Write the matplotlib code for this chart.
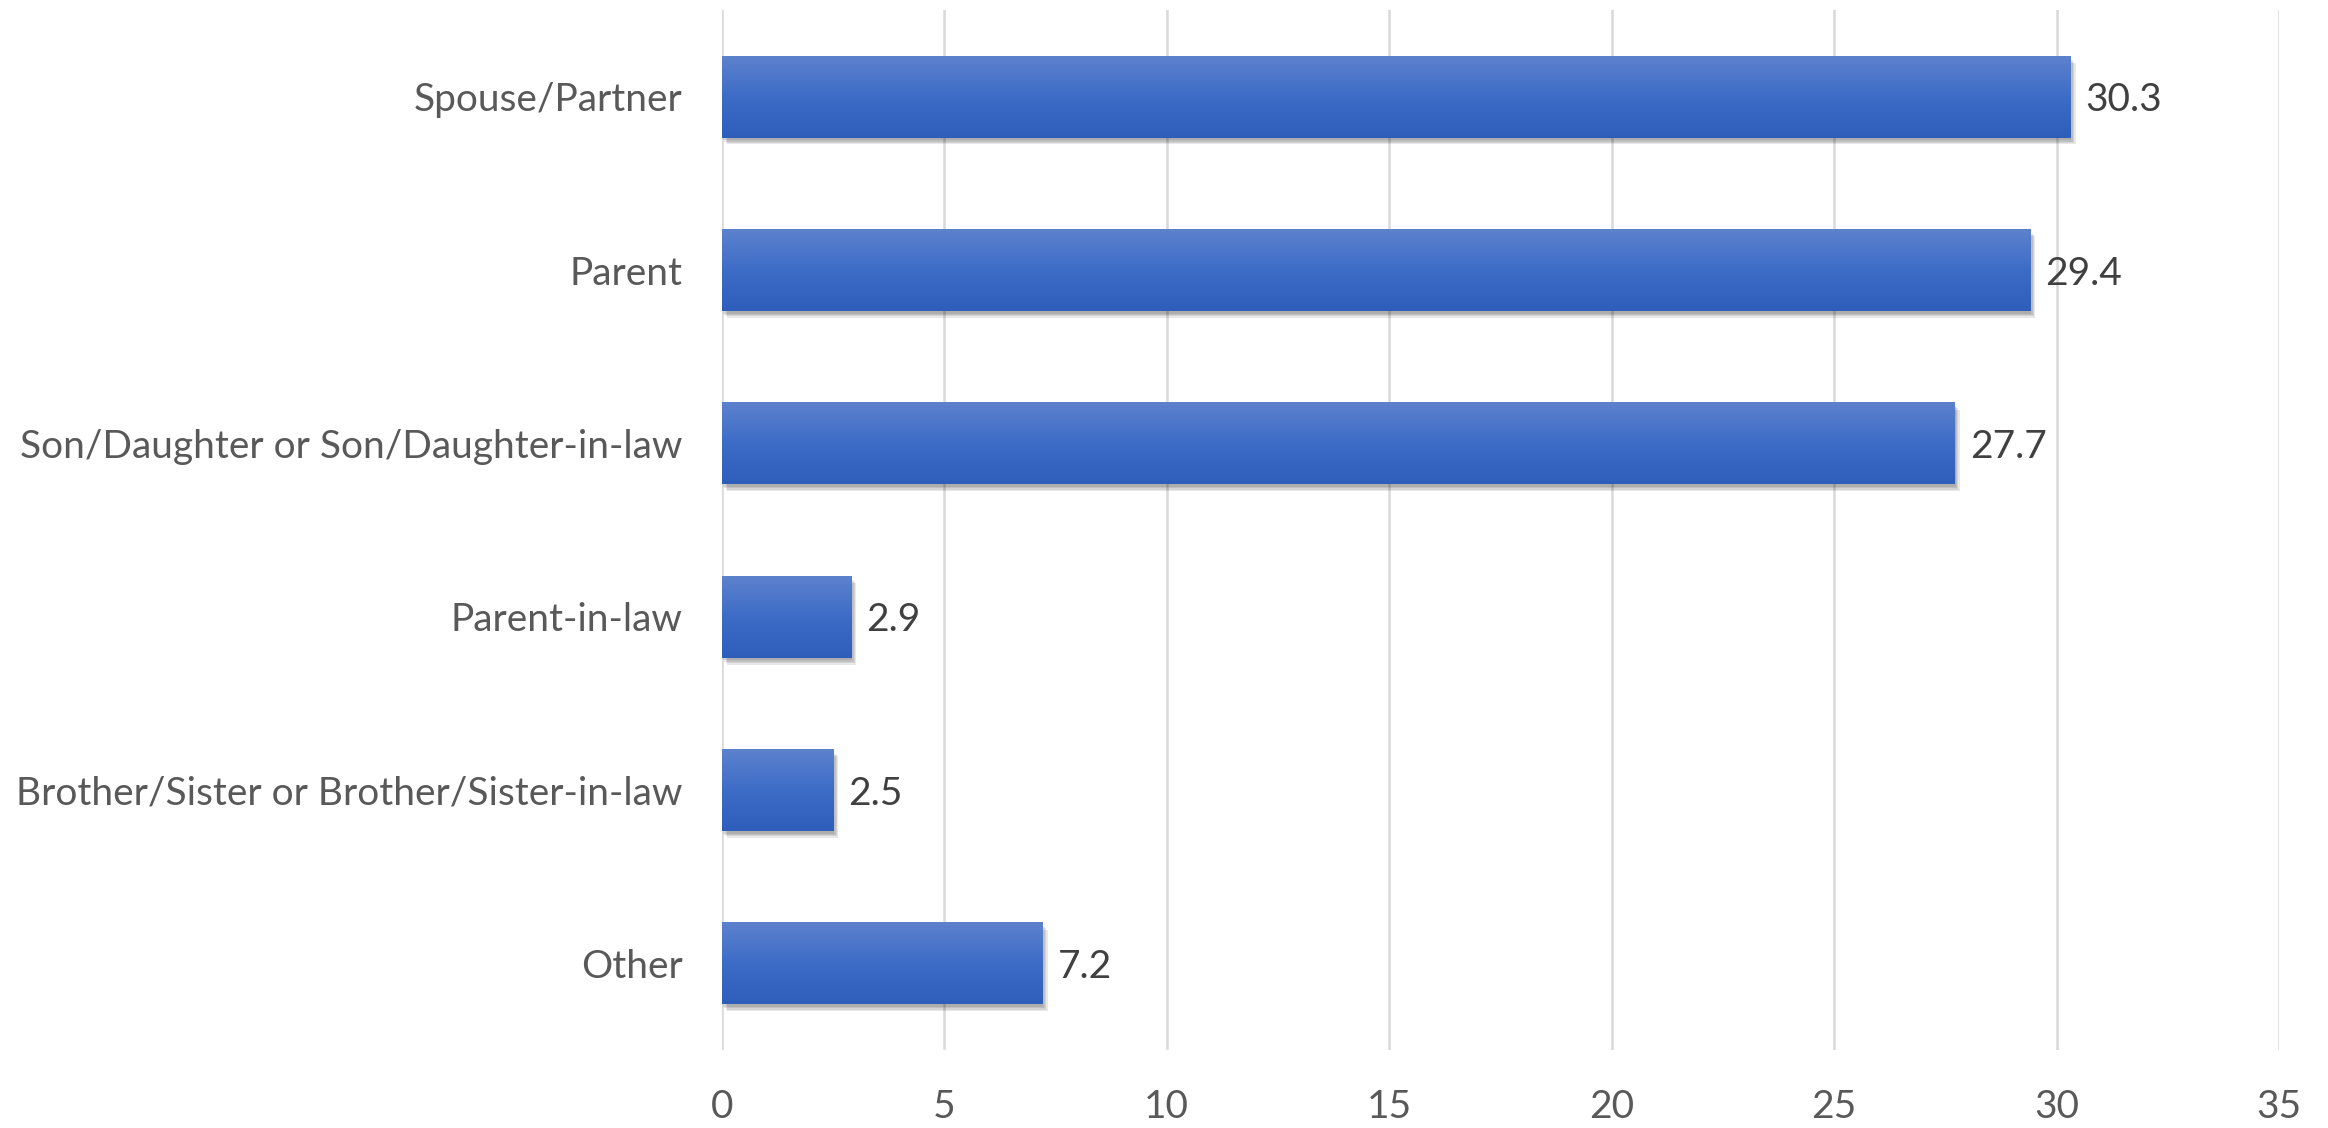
import numpy as np
import matplotlib.pyplot as plt
import matplotlib.patheffects as pe
from matplotlib.colors import LinearSegmentedColormap

categories = ['Spouse/Partner', 'Parent', 'Son/Daughter or Son/Daughter-in-law',
              'Parent-in-law', 'Brother/Sister or Brother/Sister-in-law', 'Other']
values = [30.3, 29.4, 27.7, 2.9, 2.5, 7.2]
xticks = [0, 5, 10, 15, 20, 25, 30, 35]

plt.rcParams['font.family'] = ['Lato', 'DejaVu Sans']

fig = plt.figure(figsize=(23.28, 11.28), dpi=100)
ax = fig.add_axes([0.310, 0.069, 0.669, 0.922])

n = len(categories)
ypos = np.arange(n)[::-1]
h = 0.47

cmap = LinearSegmentedColormap.from_list('bar', ['#5D82CD', '#3D6CC7', '#2E5EBA'])
grad = np.linspace(0, 1, 256).reshape(-1, 1)

# soft shadow: a few faint offset copies, then gradient image on top
shadow = [pe.SimplePatchShadow(offset=(o, -o - 1), shadow_rgbFace='k', alpha=0.09)
          for o in (1, 2, 3, 4)]
ax.barh(ypos, values, height=h, color='#2E5EBA', zorder=2,
        path_effects=shadow + [pe.Normal()])
for y, v in zip(ypos, values):
    ax.imshow(grad, extent=(0, v, y - h / 2, y + h / 2), aspect='auto',
              cmap=cmap, origin='upper', zorder=3, interpolation='bilinear')
    ax.text(v + 0.35, y - 0.02, f'{v}', va='center', ha='left', fontsize=28,
            color='#404040', zorder=4)

ax.set_xlim(0, 35)
ax.set_ylim(-0.5, n - 0.5)
ax.set_xticks(xticks)
ax.set_yticks(ypos)
ax.set_yticklabels(categories)
ax.tick_params(axis='both', length=0, labelsize=28, labelcolor='#595959')
ax.tick_params(axis='y', pad=28)
ax.tick_params(axis='x', pad=28)
ax.grid(axis='x', color='#D9D9D9', linewidth=1.8, zorder=0)
ax.set_axisbelow(True)
for s in ax.spines.values():
    s.set_visible(False)

fig.savefig('out.png', dpi=100)
